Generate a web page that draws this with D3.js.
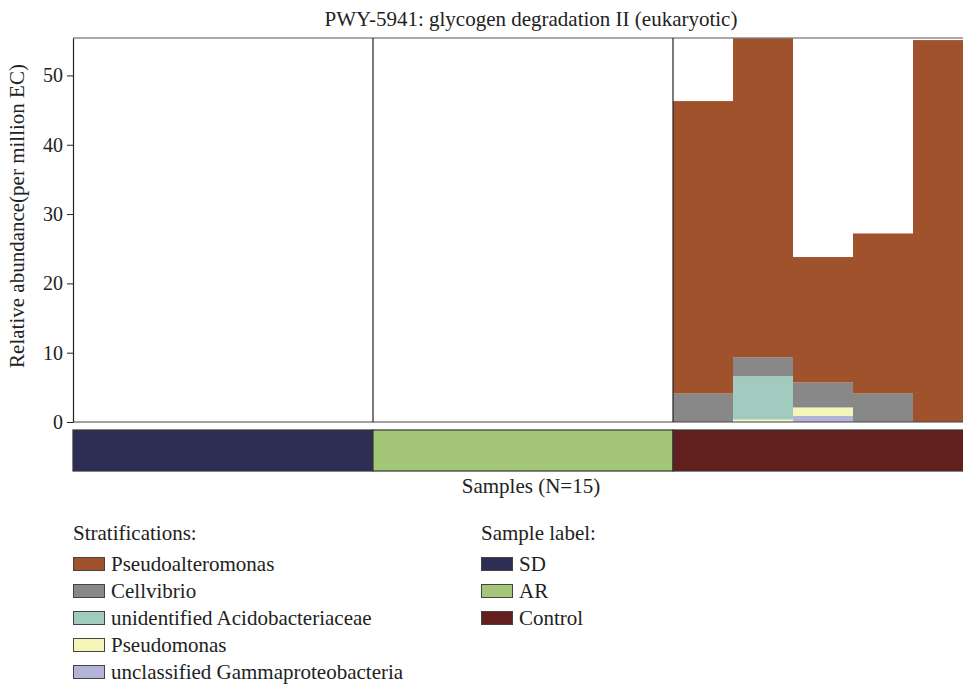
<!DOCTYPE html>
<html>
<head>
<meta charset="utf-8">
<script src="https://cdn.jsdelivr.net/npm/d3@7"></script>
<style>
  body { margin: 0; background: #fff; }
  svg { font-family: "Liberation Serif", "DejaVu Serif", serif; }
</style>
</head>
<body>
<svg id="chart" width="963" height="688"></svg>
<script>
// Samples and their group label
const samples = ["S1","S2","S3","S4","S5","S6","S7","S8","S9","S10","S11","S12","S13","S14","S15"];
const sampleGroups = ["SD","SD","SD","SD","SD","AR","AR","AR","AR","AR","Control","Control","Control","Control","Control"];
const groups = ["SD", "AR", "Control"];
const groupColors = ["#2e2d55", "#a3c776", "#631e1e"];

// Stratifications, bottom of stack first
const taxa = ["unclassified Gammaproteobacteria", "Pseudomonas", "unidentified Acidobacteriaceae", "Cellvibrio", "Pseudoalteromonas"];
const taxaColors = ["#b3b3d6", "#f5f5b8", "#a1cbbf", "#888888", "#a0522d"];

// per-sample values (per million EC)
const gamma    = [0,0,0,0,0, 0,0,0,0,0, 0,    0,    0.9, 0,    0];
const pseudom  = [0,0,0,0,0, 0,0,0,0,0, 0,    0.35, 1.2, 0,    0];
const acido    = [0,0,0,0,0, 0,0,0,0,0, 0,    6.25, 0,   0,    0];
const cellv    = [0,0,0,0,0, 0,0,0,0,0, 4.1,  2.75, 3.6, 4.1,  0];
const pseudoal = [0,0,0,0,0, 0,0,0,0,0, 42.2, 46.0, 18.1, 23.1, 55.1];

const yTicks = [0, 10, 20, 30, 40, 50];

const svg = d3.select("#chart");
const mLeft = 73, mRight = 973, mTop = 38, mBottom = 422;

const x = d3.scaleBand().domain(samples).range([mLeft, mRight]).padding(0);
const y = d3.scaleLinear().domain([0, 55.4]).range([mBottom, mTop]);

// Build stacked table
const table = samples.map((s, i) => ({
  sample: s,
  "unclassified Gammaproteobacteria": gamma[i],
  "Pseudomonas": pseudom[i],
  "unidentified Acidobacteriaceae": acido[i],
  "Cellvibrio": cellv[i],
  "Pseudoalteromonas": pseudoal[i]
}));
const stack = d3.stack().keys(taxa)(table);
const color = d3.scaleOrdinal().domain(taxa).range(taxaColors);
const gColor = d3.scaleOrdinal().domain(groups).range(groupColors);

// bars
svg.append("g").selectAll("g")
  .data(stack)
  .join("g")
    .attr("fill", d => color(d.key))
  .selectAll("rect")
  .data(d => d.filter(p => p[1] - p[0] > 0))
  .join("rect")
    .attr("x", d => x(d.data.sample))
    .attr("width", x.bandwidth())
    .attr("y", d => y(d[1]))
    .attr("height", d => y(d[0]) - y(d[1]));

// frame lines
svg.append("line").attr("x1", mLeft).attr("x2", 963).attr("y1", mTop).attr("y2", mTop)
  .attr("stroke", "#555").attr("stroke-width", 1.2);
svg.append("line").attr("x1", mLeft).attr("x2", 963).attr("y1", mBottom).attr("y2", mBottom)
  .attr("stroke", "#444").attr("stroke-width", 1.2);

// group separators
const groupStarts = groups.map(g => x(samples[sampleGroups.indexOf(g)]));
svg.append("g").selectAll("line")
  .data(groupStarts.slice(1))
  .join("line")
    .attr("x1", d => d).attr("x2", d => d)
    .attr("y1", mTop).attr("y2", mBottom)
    .attr("stroke", "#222").attr("stroke-width", 1.2);

// y axis
const yAxis = svg.append("g")
  .attr("transform", `translate(${mLeft},0)`)
  .call(d3.axisLeft(y).tickValues(yTicks).tickSize(6).tickPadding(4).tickSizeOuter(0));
yAxis.select(".domain").attr("stroke", "#222").attr("stroke-width", 1.2);
yAxis.selectAll(".tick line").attr("stroke", "#222");
yAxis.selectAll("text").attr("font-size", 20).attr("fill", "#222")
  .attr("font-family", "Liberation Serif, DejaVu Serif, serif");

// sample label strip
svg.append("g").selectAll("rect")
  .data(groups)
  .join("rect")
    .attr("x", (g, i) => groupStarts[i])
    .attr("y", 430)
    .attr("width", g => x.bandwidth() * sampleGroups.filter(d => d === g).length)
    .attr("height", 41)
    .attr("fill", g => gColor(g))
    .attr("stroke", "#333").attr("stroke-width", 1.2);

// title and axis labels
svg.append("text").attr("x", 531).attr("y", 26).attr("text-anchor", "middle")
  .attr("font-size", 21).attr("fill", "#222")
  .text("PWY-5941: glycogen degradation II (eukaryotic)");
svg.append("text").attr("x", 531).attr("y", 493).attr("text-anchor", "middle")
  .attr("font-size", 21).attr("fill", "#222")
  .text("Samples (N=15)");
svg.append("text")
  .attr("transform", "translate(24,216) rotate(-90)")
  .attr("text-anchor", "middle").attr("font-size", 21).attr("fill", "#222")
  .text("Relative abundance(per million EC)");

// legends
function legend(x0, title, keys, scale) {
  const g = svg.append("g").attr("transform", `translate(${x0},0)`);
  g.append("text").attr("x", 0).attr("y", 540).attr("font-size", 21).attr("fill", "#222").text(title);
  const item = g.selectAll("g.item").data(keys).join("g").attr("class", "item")
    .attr("transform", (d, i) => `translate(0,${557 + i * 27})`);
  item.append("rect").attr("x", 0.5).attr("y", 0.5).attr("width", 31).attr("height", 13)
    .attr("fill", d => scale(d)).attr("stroke", "#444").attr("stroke-width", 1);
  item.append("text").attr("x", 38).attr("y", 14).attr("font-size", 21).attr("fill", "#222").text(d => d);
}
legend(73, "Stratifications:", taxa.slice().reverse(), color);
legend(481, "Sample label:", groups, gColor);
</script>
</body>
</html>
